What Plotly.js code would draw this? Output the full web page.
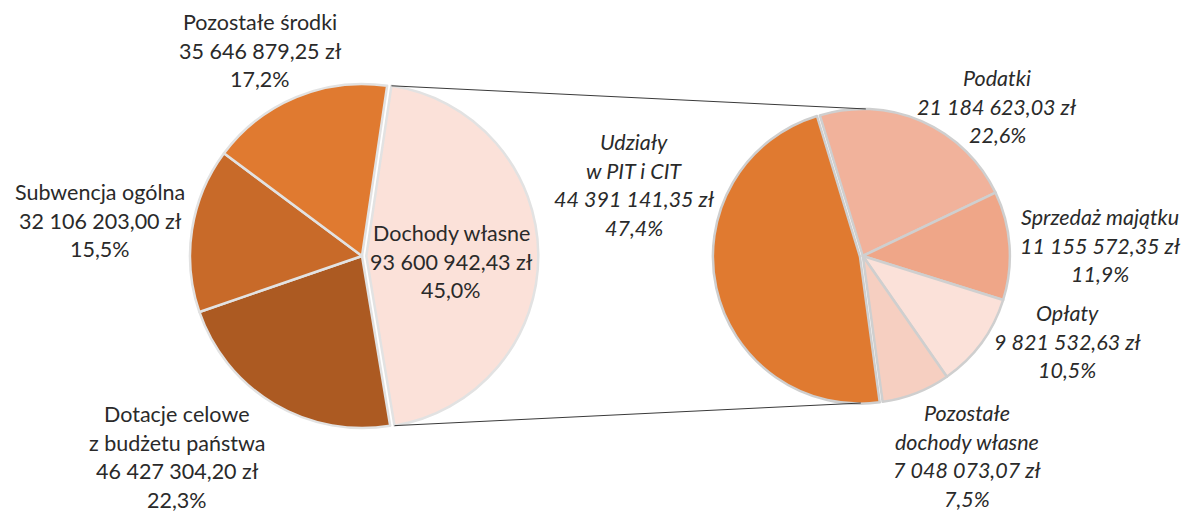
<!DOCTYPE html>
<html>
<head>
<meta charset="utf-8">
<script src="https://cdn.plot.ly/plotly-3.0.1.min.js"></script>
<style>html,body{margin:0;padding:0;background:#fff;}#chart{width:1191px;height:513px;}</style>
</head>
<body>
<div id="chart"></div>
<script>
// ---- data ----
const rightLabels = ['Podatki', 'Sprzedaż majątku', 'Opłaty', 'Pozostałe\ndochody własne', 'Udziały\nw PIT i CIT'];
const rightValues = [21184623.03, 11155572.35, 9821532.63, 7048073.07, 44391141.35];
const leftLabels = ['Dochody własne', 'Dotacje celowe\nz budżetu państwa', 'Subwencja ogólna', 'Pozostałe środki'];
const leftValues = [93600942.43, 46427304.20, 32106203.00, 35646879.25];

// ---- styles ----
const leftColors = ['#FBE1D9', '#AC5A22', '#C86A29', '#E07A30'];
const rightColors = ['#F1B29B', '#EFA688', '#FBE1D9', '#F6CFC1', '#E07A30'];
const leftPull = [0.025, 0, 0, 0];
const rightPull = [0, 0, 0, 0, 0.02];
const W = 1191, H = 513;
const leftDom = {x: [0.15592, 0.45197], y: [0.15731, 0.84464]};
const rightDom = {x: [0.59836, 0.85055], y: [0.20858, 0.79337]};
const leftRot = 8.4, rightRot = -17;
// label anchor positions in pixels: [centerX, firstLineY]
const leftLabelPos = [[451, 233], [177, 414], [100, 192], [260, 22]];
const rightLabelPos = [[997, 78], [1100, 217], [1067, 313], [967, 413], [634, 142]];
const pitch = 28.6;
const FONT = 'Lato, "Open Sans", sans-serif';
const TXT = '#2a2a2a';
const FS = 21.5;

function fmt(v) {
  const parts = v.toFixed(2).split('.');
  const int = parts[0].replace(/\B(?=(\d{3})+(?!\d))/g, ' ');
  return int + ',' + parts[1] + ' zł';
}
function pct(v, tot) { return (v / tot * 100).toFixed(1).replace('.', ',') + '%'; }

const annotations = [];
function addLabels(labels, values, pos, italic) {
  const tot = values.reduce((a, b) => a + b, 0);
  labels.forEach((lab, i) => {
    const lines = lab.split('\n').concat([fmt(values[i]), pct(values[i], tot)]);
    lines.forEach((ln, k) => {
      annotations.push({
        xref: 'paper', yref: 'paper', showarrow: false, borderpad: 0,
        x: pos[i][0] / W, y: 1 - (pos[i][1] + k * pitch) / H,
        xanchor: 'center', yanchor: 'middle', text: ln,
        font: {family: FONT, size: FS, color: TXT, style: italic ? 'italic' : 'normal'}
      });
    });
  });
}
addLabels(leftLabels, leftValues, leftLabelPos, false);
addLabels(rightLabels, rightValues, rightLabelPos, true);

// connector lines from the "Dochody własne" slice to the secondary pie
function geom(dom, pulls) {
  const w = W * (dom.x[1] - dom.x[0]), h = H * (dom.y[1] - dom.y[0]);
  const R = Math.min(w, h) / 2;
  const r = R / (1 + Math.max(...pulls));
  return {r: r, cx: W * (dom.x[0] + dom.x[1]) / 2, cy: H * (1 - (dom.y[0] + dom.y[1]) / 2)};
}
const gL = geom(leftDom, leftPull), gR = geom(rightDom, rightPull);
const totL = leftValues.reduce((a, b) => a + b, 0);
const a0 = leftRot * Math.PI / 180;
const a1 = a0 + 2 * Math.PI * leftValues[0] / totL;
const am = (a0 + a1) / 2;
const ox = leftPull[0] * gL.r * Math.sin(am), oy = -leftPull[0] * gL.r * Math.cos(am);
const pTop = [gL.cx + gL.r * Math.sin(a0) + ox, gL.cy - gL.r * Math.cos(a0) + oy];
const pBot = [gL.cx + gL.r * Math.sin(a1) + ox, gL.cy - gL.r * Math.cos(a1) + oy];
const qTop = [gR.cx + 3, gR.cy - gR.r];
const qBot = [gR.cx - 2, gR.cy + gR.r];
const shapes = [[pTop, qTop], [pBot, qBot]].map(s => ({
  type: 'line', xref: 'paper', yref: 'paper',
  x0: s[0][0] / W, y0: 1 - s[0][1] / H, x1: s[1][0] / W, y1: 1 - s[1][1] / H,
  line: {color: '#3a3a3a', width: 1}
}));

const traces = [
  {type: 'pie', labels: leftLabels, values: leftValues, sort: false, direction: 'clockwise',
   rotation: leftRot, domain: leftDom, pull: leftPull, textinfo: 'none', hoverinfo: 'none',
   marker: {colors: leftColors, line: {color: '#e2e2e2', width: 2.5}}, showlegend: false},
  {type: 'pie', labels: rightLabels, values: rightValues, sort: false, direction: 'clockwise',
   rotation: rightRot, domain: rightDom, pull: rightPull, textinfo: 'none', hoverinfo: 'none',
   marker: {colors: rightColors, line: {color: '#cfcfcf', width: 2.5}}, showlegend: false}
];

Plotly.newPlot('chart', traces, {
  width: W, height: H, margin: {l: 0, r: 0, t: 0, b: 0},
  paper_bgcolor: '#ffffff', plot_bgcolor: '#ffffff',
  showlegend: false, annotations: annotations, shapes: shapes
}, {displayModeBar: false, staticPlot: true});
</script>
</body>
</html>
